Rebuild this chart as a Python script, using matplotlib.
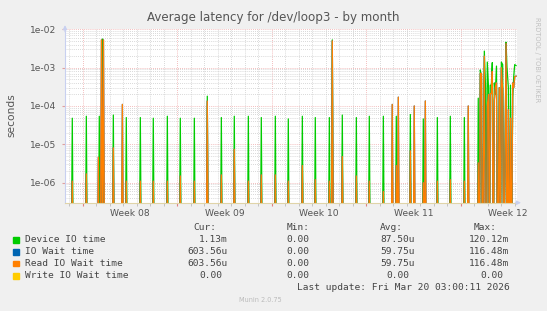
import matplotlib
matplotlib.use("Agg")
import matplotlib.pyplot as plt
from matplotlib.patches import Rectangle
from matplotlib.ticker import FixedLocator, LogLocator, NullFormatter
import numpy as np

W, H = 547, 311

# time axis: days since Mon 16 Feb 2026 00:00 (start of Week 08)
x_start, x_end = -1.31, 32.17
week_starts = [0, 7, 14, 21, 28]
week_mid = [3.5, 10.5, 17.5, 24.5, 31.5]
week_labels = ["Week 08", "Week 09", "Week 10", "Week 11", "Week 12"]

# isolated spikes (day, seconds)
device_spike_day = [-0.77, 0.27, 1.23, 1.47, 2.27, 3.23, 4.27, 5.23, 6.27, 7.23,
                    8.27, 9.23, 10.27, 11.23, 12.27, 13.23, 14.27, 15.23, 16.27,
                    17.23, 18.27, 18.49, 19.23, 20.27, 21.23, 22.27, 23.23, 24.27,
                    25.23, 26.27, 27.23, 28.27]
device_spike_val = [4.8e-5, 5.4e-5, 5.4e-5, 5.6e-3, 5.8e-5, 5.0e-5, 5.0e-5, 4.8e-5,
                    5.4e-5, 4.8e-5, 4.8e-5, 1.8e-4, 5.0e-5, 5.4e-5, 5.4e-5, 5.0e-5,
                    5.4e-5, 4.6e-5, 5.4e-5, 5.0e-5, 5.0e-5, 5.3e-3, 5.8e-5, 5.0e-5,
                    5.4e-5, 5.4e-5, 5.4e-5, 6.0e-5, 4.6e-5, 5.0e-5, 5.4e-5, 5.0e-5]

read_spike_day = [-0.77, 0.27, 1.16, 1.39, 1.54, 2.27, 2.94, 3.23, 4.27, 5.23,
                  6.27, 7.23, 8.27, 9.23, 10.27, 11.23, 12.27, 13.23, 14.27, 15.23,
                  16.27, 17.23, 18.27, 18.49, 19.23, 20.27, 21.23, 22.27, 22.93,
                  23.23, 23.38, 24.27, 24.56, 25.23, 25.38, 26.27, 27.23, 28.27, 28.56]
read_spike_val = [1.1e-6, 1.7e-6, 4.6e-6, 5.3e-3, 5.3e-3, 8.1e-6, 1.1e-4, 1.1e-6,
                  1.1e-6, 1.1e-6, 1.1e-6, 1.5e-6, 1.1e-6, 1.35e-4, 1.6e-6, 7.4e-6,
                  1.1e-6, 1.6e-6, 1.6e-6, 1.1e-6, 2.8e-6, 1.2e-6, 1.1e-6, 5.0e-3,
                  4.8e-6, 1.5e-6, 1.1e-6, 5.9e-7, 1.1e-4, 2.8e-6, 1.7e-4, 6.8e-6,
                  1.0e-4, 1.0e-6, 1.35e-4, 1.1e-6, 1.2e-6, 1.1e-6, 1.0e-4]

# busy stretch at the end of week 12, sample by sample
busy_day = [29.22, 29.30, 29.38, 29.45, 29.54, 29.61, 29.75, 29.84, 29.90, 29.97,
            30.06, 30.13, 30.19, 30.27, 30.34, 30.41, 30.49, 30.56, 30.65, 30.73,
            30.86, 30.93, 31.01, 31.11, 31.19, 31.36, 31.43, 31.53, 31.60, 31.69,
            31.76, 31.85, 31.93, 32.00, 32.10]
busy_device = [0, 1.6e-4, 0, 8.7e-4, 6e-4, 0, 2.7e-3, 3e-4, 0, 1.4e-3,
               3e-4, 0, 3.5e-4, 3.5e-4, 1.35e-3, 0, 4e-4, 2e-4, 1.1e-3, 0,
               3e-4, 0, 1.4e-3, 1.2e-3, 0, 4.6e-3, 1e-3, 3e-4, 0, 3.5e-4,
               0, 1.7e-4, 6e-4, 1.2e-3, 1.13e-3]
busy_read = [0, 3.3e-6, 0, 7.1e-4, 7e-4, 0, 2e-3, 0, 0, 1e-4,
             2e-4, 0, 2.1e-4, 2.1e-4, 8e-4, 0, 1.4e-4, 3e-4, 4e-4, 0,
             3e-4, 0, 1e-3, 2.6e-4, 0, 4.3e-3, 0, 8e-5, 0, 4.8e-5,
             0, 4e-4, 3e-4, 5.8e-4, 6.0e-4]

legend_names = ["Device IO time", "IO Wait time", "Read IO Wait time", "Write IO Wait time"]
legend_colors = ["#00CC00", "#0066B3", "#FF8000", "#FFCC00"]
legend_cur = ["1.13m", "603.56u", "603.56u", "0.00"]
legend_min = ["0.00", "0.00", "0.00", "0.00"]
legend_avg = ["87.50u", "59.75u", "59.75u", "0.00"]
legend_max = ["120.12m", "116.48m", "116.48m", "0.00"]


def spikes(days, vals, half=0.09):
    t, v = [], []
    for d, y in zip(days, vals):
        t += [d - half, d, d + half]
        v += [0, y, 0]
    return t, v


def fx(px):
    return px / W


def fy(py):
    return 1 - py / H


dev_t, dev_v = spikes(device_spike_day, device_spike_val)
dev_t += busy_day
dev_v += busy_device
rd_t, rd_v = spikes(read_spike_day, read_spike_val)
rd_t += busy_day
rd_v += busy_read
floor = 1e-9

fig = plt.figure(figsize=(W / 100, H / 100), dpi=100, facecolor="#F0F0F0")
ax = fig.add_axes([fx(65), fy(202.7), fx(517 - 65), (202.7 - 29.3) / H])
ax.set_facecolor("white")

ax.plot(dev_t, np.clip(dev_v, floor, None), color=legend_colors[0], lw=0.9)
ax.plot(rd_t, np.clip(rd_v, floor, None), color=legend_colors[1], lw=0.9)
ax.plot(rd_t, np.clip(rd_v, floor, None), color=legend_colors[2], lw=0.9)
ax.plot([x_start, x_end], [floor, floor], color=legend_colors[3], lw=0.9)

ax.set_yscale("log")
ax.set_ylim(3.0e-7, 1e-2)
ax.set_xlim(x_start, x_end)

# grid
ax.xaxis.set_major_locator(FixedLocator(week_starts))
ax.xaxis.set_minor_locator(FixedLocator([d for d in range(-1, 33) if d % 7]))
ax.yaxis.set_major_locator(LogLocator(base=10, numticks=10))
ax.yaxis.set_minor_locator(LogLocator(base=10, subs=np.arange(2, 10), numticks=20))
ax.yaxis.set_minor_formatter(NullFormatter())
ax.grid(which="major", color="#F0A8A8", lw=0.6, ls=(0, (1, 1.5)))
ax.grid(which="minor", color="#CCCCCC", lw=0.6, ls=(0, (1, 1.5)))
ax.set_axisbelow(True)

ax.yaxis.set_major_formatter(lambda v, p: f"{v:.0e}")
ax.tick_params(axis="y", which="major", labelsize=6.6, labelcolor="#555555",
               length=2, color="#E0A0A0", pad=4)
ax.tick_params(axis="y", which="minor", length=0)
ax.tick_params(axis="x", which="major", length=2, color="#E08080", labelbottom=False)
ax.tick_params(axis="x", which="minor", length=2, color="#BBBBBB")

for side in ["top", "right"]:
    ax.spines[side].set_visible(False)
ax.spines["left"].set_color("#C8D0F0")
ax.spines["bottom"].set_color("#E0D4A8")

ax.annotate("", xy=(0, 1.04), xytext=(0, 0.97), xycoords="axes fraction",
            arrowprops=dict(arrowstyle="-|>", color="#C8D0F0", lw=0.8,
                            mutation_scale=6), annotation_clip=False)
ax.annotate("", xy=(1.015, 0), xytext=(0.99, 0), xycoords="axes fraction",
            arrowprops=dict(arrowstyle="-|>", color="#C8D0F0", lw=0.8,
                            mutation_scale=6), annotation_clip=False)

for d, lab in zip(week_mid, week_labels):
    ax.text(d, -0.06, lab, transform=ax.get_xaxis_transform(), ha="center",
            va="center", fontsize=6.6, color="#555555")

fig.text(fx(273), fy(18), "Average latency for /dev/loop3 - by month",
         ha="center", va="center", fontsize=8.6, color="#555555")
fig.text(fx(11), fy(115), "seconds", rotation=90, ha="center", va="center",
         fontsize=7.7, color="#555555")
fig.text(fx(537), fy(60), "RRDTOOL / TOBI OETIKER", rotation=270, ha="center",
         va="center", fontsize=4.8, color="#C0C0C0")

# legend
mono = "DejaVu Sans Mono"
lfs = 6.8
char_w = 5.7
for txt, right in zip(["Cur:", "Min:", "Avg:", "Max:"], [216, 309.3, 403.3, 496.7]):
    fig.text(fx(right), fy(227.7), txt, ha="right", va="center", family=mono,
             fontsize=lfs, color="#444444")
row_y = [239.7, 251.7, 263.3, 275.7]
for i, name in enumerate(legend_names):
    y = row_y[i]
    fig.patches.append(Rectangle((fx(13.3), fy(y + 2.8)), 5.5 / W, 5.5 / H,
                                 transform=fig.transFigure, color=legend_colors[i]))
    fig.text(fx(25), fy(y), name, ha="left", va="center", family=mono,
             fontsize=lfs, color="#444444")
    cols = [legend_cur[i], legend_min[i], legend_avg[i], legend_max[i]]
    for val, right in zip(cols, [227.7, 315.3, 415, 509.3]):
        r = right if val[-1].isalpha() else right - char_w
        fig.text(fx(r), fy(y), val, ha="right", va="center", family=mono,
                 fontsize=lfs, color="#444444")
fig.text(fx(509.3), fy(287.7), "Last update: Fri Mar 20 03:00:11 2026",
         ha="right", va="center", family=mono, fontsize=lfs, color="#444444")
fig.text(fx(260.7), fy(300), "Munin 2.0.75", ha="center", va="center",
         fontsize=4.7, color="#BBBBBB")

fig.savefig("out.png", dpi=100, facecolor=fig.get_facecolor())
